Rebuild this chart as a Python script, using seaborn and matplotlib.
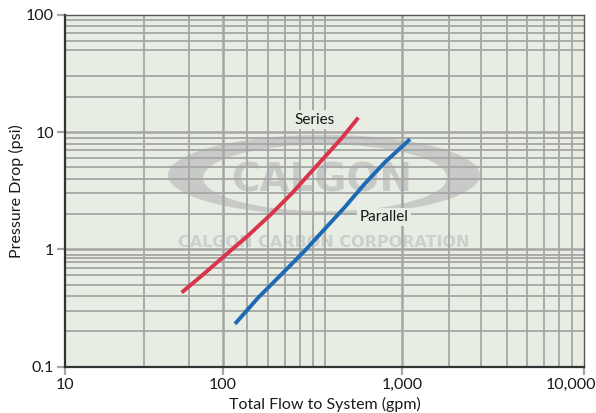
import numpy as np
import pandas as pd
import matplotlib
matplotlib.use("Agg")
import matplotlib.pyplot as plt
from matplotlib.patches import Ellipse
from matplotlib.transforms import ScaledTranslation
import seaborn as sns

# Curve data (gpm, psi)
series_flow = [54.9, 73.6, 103, 138.8, 187.4, 242.2, 299.7, 371.2, 459.8, 568.9]
series_dp = [0.429, 0.597, 0.888, 1.318, 2.02, 3.0, 4.31, 6.19, 8.89, 13.3]
parallel_flow = [117.1, 157.8, 213.1, 287.3, 371.2, 479.7, 619.9, 800.9, 1102.6]
parallel_dp = [0.232, 0.389, 0.617, 0.98, 1.504, 2.307, 3.655, 5.55, 8.71]

x_ticks = [10, 100, 1000, 10000]
x_tick_labels = ["10", "100", "1,000", "10,000"]
y_ticks = [0.1, 1, 10, 100]
y_tick_labels = ["0.1", "1", "10", "100"]

df = pd.concat([
    pd.DataFrame({"flow": series_flow, "dp": series_dp, "config": "Series"}),
    pd.DataFrame({"flow": parallel_flow, "dp": parallel_dp, "config": "Parallel"}),
])

sns.set_style("white")
plt.rcParams["font.family"] = ["Lato", "DejaVu Sans"]

BG = "#e7ede3"
GRID = "#a6a6a6"
INK = "#1a1a1a"

fig = plt.figure(figsize=(5.96, 4.13), dpi=100)
ax = fig.add_axes([0.109, 0.112, 0.871, 0.852])
ax.set_facecolor(BG)

# the printed chart's x decades are not equal width, mimic that
knots_log = [1, 2, 3, 4]
knots_px = [0, 157.7, 337.3, 519]


def fwd(x):
    t = np.log10(np.clip(np.asarray(x, dtype=float), 1e-12, None))
    return np.interp(t, knots_log, knots_px)


def inv(u):
    return 10 ** np.interp(np.asarray(u, dtype=float), knots_px, knots_log)


ax.set_xscale("function", functions=(fwd, inv))
ax.set_yscale("log")
ax.set_xlim(10, 10000)
ax.set_ylim(0.1, 100)

# watermark logo
ax.add_patch(Ellipse((0.499, 0.545), 0.601, 0.228, transform=ax.transAxes,
                     facecolor="#c8cac8", edgecolor="none", zorder=0.3))
ax.add_patch(Ellipse((0.501, 0.537), 0.47, 0.19, transform=ax.transAxes,
                     facecolor=BG, edgecolor="none", zorder=0.35))
ax.text(0.495, 0.53, "CALGON", transform=ax.transAxes, ha="center", va="center",
        fontsize=28, fontweight="bold", color="#c8cac8", family="DejaVu Sans",
        zorder=0.4)
ax.text(0.499, 0.352, "CALGON CARBON CORPORATION", transform=ax.transAxes,
        ha="center", va="center", fontsize=11.5, fontweight="bold",
        color="#cdcfcd", family="DejaVu Sans", zorder=0.4)

# grid lines as drawn on the original
x_grid = [31.7, 61, 136, 179, 223, 269, 319, 371,
          1810, 2710, 3760, 4850, 6030, 7280, 8600]
y_grid = [0.2, 0.3, 0.4, 0.5, 0.6, 0.7, 0.78, 0.84, 0.9,
          2, 3, 4, 5, 6, 7, 8, 9,
          20, 30, 50, 60, 70, 80, 90]
for v in x_grid:
    ax.axvline(v, color=GRID, lw=1.3, zorder=1)
for v in y_grid:
    ax.axhline(v, color=GRID, lw=1.3, zorder=1)
for v in x_ticks[1:-1]:
    ax.axvline(v, color=GRID, lw=1.8, zorder=1)
for v in y_ticks[1:-1]:
    ax.axhline(v, color=GRID, lw=1.8, zorder=1)

sns.lineplot(data=df, x="flow", y="dp", hue="config",
             palette={"Series": "#d9344b", "Parallel": "#1d69b3"},
             linewidth=2.8, legend=False, sort=False, ax=ax, zorder=3,
             solid_capstyle="butt")

ax.text(326, 12.8, "Series", ha="center", va="center", fontsize=11,
        color=INK, zorder=2,
        bbox=dict(facecolor=BG, edgecolor="none", pad=1.5))
ax.text(790, 1.9, "Parallel", ha="center", va="center", fontsize=11,
        color=INK, zorder=2,
        bbox=dict(facecolor=BG, edgecolor="none", pad=1.5))

ax.set_xticks(x_ticks)
ax.set_xticklabels(x_tick_labels)
ax.set_yticks(y_ticks)
ax.set_yticklabels(y_tick_labels)
ax.xaxis.set_minor_locator(matplotlib.ticker.NullLocator())
ax.yaxis.set_minor_locator(matplotlib.ticker.NullLocator())
ax.tick_params(axis="both", which="major", length=6, width=1.6, color=GRID,
               labelsize=11.5, labelcolor=INK, pad=2, direction="out",
               bottom=True, left=True)

# last x label sits inside the figure edge
last = ax.get_xticklabels()[-1]
last.set_horizontalalignment("right")
last.set_transform(last.get_transform() +
                   ScaledTranslation(0.12, 0, fig.dpi_scale_trans))

ax.set_xlabel("Total Flow to System (gpm)", fontsize=11.5, color=INK,
              labelpad=4)
ax.set_ylabel("Pressure Drop (psi)", fontsize=11.5, color=INK,
              labelpad=1)

for side in ["left", "bottom"]:
    ax.spines[side].set_color("#333333")
    ax.spines[side].set_linewidth(1.6)
for side in ["top", "right"]:
    ax.spines[side].set_color("#555555")
    ax.spines[side].set_linewidth(1.0)
for s in ax.spines.values():
    s.set_zorder(4)

fig.savefig("out.png", dpi=100, facecolor="white")
